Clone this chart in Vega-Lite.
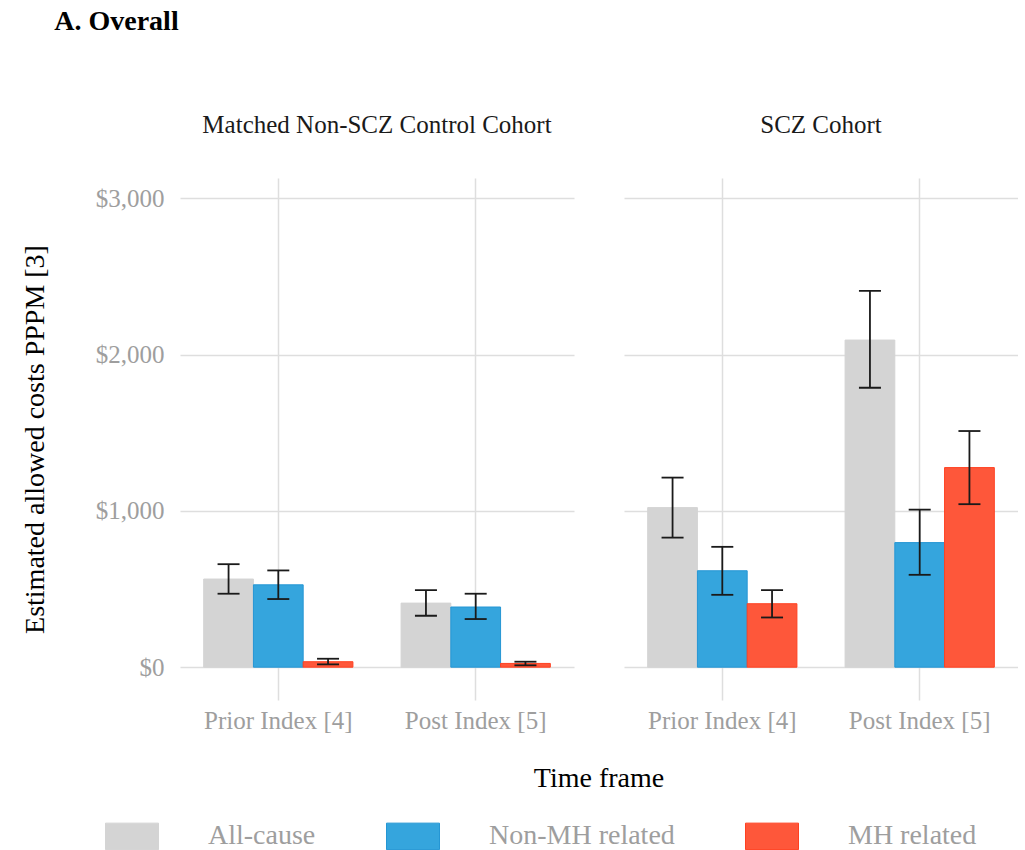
{
  "$schema": "https://vega.github.io/schema/vega-lite/v6.json",
  "padding": {"left": 21, "top": 8, "right": 0, "bottom": 0},
  "background": "white",
  "title": {"text": "A. Overall", "anchor": "start", "frame": "bounds", "font": "Liberation Serif", "fontSize": 28, "fontWeight": "bold", "color": "#000000", "dx": 33, "offset": 77},
  "data": {"values": [
    {"cohort": "Matched Non-SCZ Control Cohort", "time": "Prior Index [4]", "type": "All-cause", "value": 564, "lo": 470, "hi": 659},
    {"cohort": "Matched Non-SCZ Control Cohort", "time": "Prior Index [4]", "type": "Non-MH related", "value": 527, "lo": 436, "hi": 619},
    {"cohort": "Matched Non-SCZ Control Cohort", "time": "Prior Index [4]", "type": "MH related", "value": 35, "lo": 18, "hi": 54},
    {"cohort": "Matched Non-SCZ Control Cohort", "time": "Post Index [5]", "type": "All-cause", "value": 410, "lo": 329, "hi": 493},
    {"cohort": "Matched Non-SCZ Control Cohort", "time": "Post Index [5]", "type": "Non-MH related", "value": 385, "lo": 308, "hi": 470},
    {"cohort": "Matched Non-SCZ Control Cohort", "time": "Post Index [5]", "type": "MH related", "value": 24, "lo": 12, "hi": 35},
    {"cohort": "SCZ Cohort", "time": "Prior Index [4]", "type": "All-cause", "value": 1021, "lo": 829, "hi": 1213},
    {"cohort": "SCZ Cohort", "time": "Prior Index [4]", "type": "Non-MH related", "value": 617, "lo": 463, "hi": 770},
    {"cohort": "SCZ Cohort", "time": "Prior Index [4]", "type": "MH related", "value": 406, "lo": 318, "hi": 493},
    {"cohort": "SCZ Cohort", "time": "Post Index [5]", "type": "All-cause", "value": 2093, "lo": 1788, "hi": 2408},
    {"cohort": "SCZ Cohort", "time": "Post Index [5]", "type": "Non-MH related", "value": 797, "lo": 591, "hi": 1008},
    {"cohort": "SCZ Cohort", "time": "Post Index [5]", "type": "MH related", "value": 1277, "lo": 1043, "hi": 1511}
  ]},
  "facet": {
    "column": {
      "field": "cohort", "type": "nominal",
      "sort": ["Matched Non-SCZ Control Cohort", "SCZ Cohort"],
      "header": {
        "title": "Time frame", "titleOrient": "bottom", "labelOrient": "top",
        "labelFont": "Liberation Serif", "labelFontSize": 25, "labelColor": "#1a1a1a", "labelPadding": 40,
        "titleFont": "Liberation Serif", "titleFontSize": 28, "titleFontWeight": "normal", "titleColor": "#000000", "titlePadding": 22
      }
    }
  },
  "spacing": 50,
  "spec": {
    "width": 394,
    "height": 522,
    "encoding": {
      "x": {"field": "time", "type": "nominal", "sort": ["Prior Index [4]", "Post Index [5]"], "title": null,
        "scale": {"paddingInner": 0.244, "paddingOuter": 0.12},
        "axis": {"labelAngle": 0, "grid": true, "bandPosition": 0.5, "ticks": false, "domain": false, "labelPadding": 8, "labelFont": "Liberation Serif", "labelFontSize": 25, "labelColor": "#9e9e9e", "gridColor": "#dedede", "gridWidth": 1.5}},
      "xOffset": {"field": "type", "type": "nominal", "sort": ["All-cause", "Non-MH related", "MH related"], "scale": {"paddingInner": 0, "paddingOuter": 0}}
    },
    "layer": [
      {
        "mark": {"type": "bar", "strokeWidth": 1},
        "encoding": {
          "y": {"field": "value", "type": "quantitative", "title": "Estimated allowed costs PPPM [3]",
            "scale": {"domain": [-210, 3130], "nice": false, "zero": false},
            "axis": {"values": [0, 1000, 2000, 3000], "format": "$,.0f", "ticks": false, "domain": false, "grid": true, "gridColor": "#dedede", "gridWidth": 1.5,
              "labelFont": "Liberation Serif", "labelFontSize": 25, "labelColor": "#9e9e9e", "labelPadding": 16,
              "titleFont": "Liberation Serif", "titleFontSize": 28, "titleFontWeight": "normal", "titleColor": "#000000", "titlePadding": 46}},
          "y2": {"datum": 0},
          "fill": {"field": "type", "type": "nominal", "sort": ["All-cause", "Non-MH related", "MH related"],
            "scale": {"domain": ["All-cause", "Non-MH related", "MH related"], "range": ["#d4d4d4", "#35a5dd", "#fe573a"]},
            "legend": {"title": null}},
          "stroke": {"field": "type", "type": "nominal", "sort": ["All-cause", "Non-MH related", "MH related"],
            "scale": {"domain": ["All-cause", "Non-MH related", "MH related"], "range": ["#d4d4d4", "#2596d4", "#ff4020"]},
            "legend": {"title": null}}
        }
      },
      {
        "mark": {"type": "rule", "color": "#1a1a1a", "strokeWidth": 1.8},
        "encoding": {"y": {"field": "lo", "type": "quantitative"}, "y2": {"field": "hi"}}
      },
      {
        "mark": {"type": "tick", "color": "#1a1a1a", "thickness": 1.8, "size": 22},
        "encoding": {"y": {"field": "lo", "type": "quantitative"}}
      },
      {
        "mark": {"type": "tick", "color": "#1a1a1a", "thickness": 1.8, "size": 22},
        "encoding": {"y": {"field": "hi", "type": "quantitative"}}
      }
    ]
  },
  "config": {
    "view": {"stroke": null},
    "font": "Liberation Serif",
    "tick": {"opacity": 1},
    "legend": {
      "orient": "none", "legendX": -75, "legendY": 631, "direction": "horizontal",
      "symbolType": "M-1,-0.5H1V0.5H-1Z", "symbolSize": 2809, "symbolStrokeWidth": 1, "symbolOpacity": 1,
      "labelFont": "Liberation Serif", "labelFontSize": 28, "labelColor": "#9e9e9e", "labelOffset": 49, "columnPadding": 68, "labelLimit": 400
    }
  }
}
